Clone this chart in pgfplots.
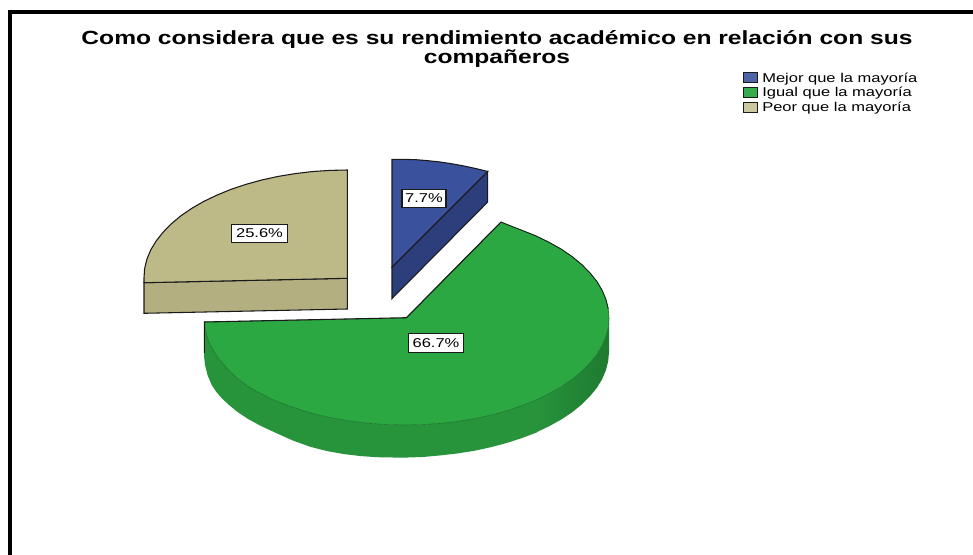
\documentclass[border=0pt]{standalone}
\usepackage{pgfplots}
\pgfplotsset{compat=1.18}
\usepackage{fontspec}
\setmainfont{Liberation Sans}
\newfontfamily\wide[FakeStretch=1.29]{Liberation Sans}
\definecolor{gtop}{HTML}{2CA843}
\definecolor{gmid}{HTML}{27933B}
\definecolor{gdark}{HTML}{1E7A30}
\definecolor{btop}{HTML}{3A529E}
\definecolor{bside}{HTML}{2C3F7C}
\definecolor{ttop}{HTML}{BEBA88}
\definecolor{tside}{HTML}{B4AF80}
\definecolor{line}{HTML}{1A1A1A}
\begin{document}
\begin{tikzpicture}[x=1pt,y=1pt]
\begin{axis}[
  scale only axis, width=729.75pt, height=416.25pt,
  xmin=0, xmax=973, ymin=0, ymax=555, y dir=reverse,
  axis lines=none, ticks=none, clip=true,
]
\path (axis cs:0,0) rectangle (axis cs:973,555);
% frame
\addplot[black, line width=3pt, line join=miter] coordinates {(9.7,560) (9.7,12) (980,12)};
% blue side and top
\addplot[fill=bside, draw=line, line width=0.8pt] coordinates {(487.7,171.5) (487.7,202) (392,298.5) (392,267)} -- cycle;
\addplot[fill=btop, draw=line, line width=0.8pt] coordinates {(392,267) (392,159.3) (404,159.4) (416,159.7) (428,160.7) (440,162) (452,163.8) (464,166) (476,168.6) (487.7,171.5)} -- cycle;
% tan side and top
\addplot[fill=tside, draw=line, line width=0.8pt] coordinates {(144,282.7) (144,313.3) (347.3,309) (347.3,278.3)} -- cycle;
\addplot[fill=ttop, draw=line, line width=0.8pt] coordinates {(347.3,278.3) (347.3,170) (329.6,170.4) (311.9,171.6) (294.6,173.7) (277.7,176.5) (261.3,180.1) (245.5,184.5) (230.6,189.5) (216.5,195.3) (203.4,201.6) (191.4,208.6) (180.6,216) (171.1,224) (162.9,232.4) (156.1,241.1) (150.7,250) (146.9,259.2) (144.6,268.6) (144,278) (144,282.7)} -- cycle;
% green side
\addplot[draw=none, left color=gmid, right color=gdark] coordinates {(609,318) (608.2,327.3) (605.9,336.6) (602.1,345.7) (596.8,354.6) (589.8,363.3) (581.7,371.5) (572.1,379.4) (561.3,386.8) (549.2,393.6) (536.2,400) (536.2,432.4) (549.2,426.2) (561.3,419.5) (572.1,412.3) (581.7,404.5) (589.8,396.4) (596.8,387.9) (602.1,379.2) (605.9,370.2) (608.2,361.1) (609,352)} -- cycle;
\addplot[draw=none, fill=gmid] coordinates {(536.8,400) (522.1,405.6) (507,410.7) (491.3,415) (474.8,418.6) (457.8,421.4) (440.5,423.4) (422.7,424.6) (405,425) (387.3,424.6) (369.5,423.4) (352.2,421.4) (335.2,418.6) (318.7,415) (303,410.7) (287.9,405.6) (273.8,400) (260.8,393.6) (248.7,386.8) (238,379) (228.3,370) (218.3,358.3) (210,345) (206.5,335) (204.3,322) (204.3,352) (204,356) (205,365) (207.5,375) (211.7,385) (216,391.5) (222,398.5) (229,405) (237.5,412) (248,419) (261,426) (276.7,433.3) (293.3,440.7) (310,446.7) (326.7,451) (343.3,454) (360,456) (376.7,457.2) (393,457.5) (405,457.6) (422.7,457) (440.5,455.4) (457.8,453.4) (474.8,450.7) (491.3,447.1) (507,442.9) (522.1,438) (536.8,432.4)} -- cycle;
% green top
\addplot[fill=gtop, draw=gdark, line width=0.5pt] coordinates {(501,222) (507,224.5) (522.1,230.4) (536.2,236) (549.2,242.4) (561.3,249.2) (572.1,256.6) (581.7,264.5) (589.8,272.7) (596.8,281.4) (602.1,290.3) (605.9,299.4) (608.2,308.7) (609,318) (608.2,327.3) (605.9,336.6) (602.1,345.7) (596.8,354.6) (589.8,363.3) (581.7,371.5) (572.1,379.4) (561.3,386.8) (549.2,393.6) (536.2,400) (522.1,405.6) (507,410.7) (491.3,415) (474.8,418.6) (457.8,421.4) (440.5,423.4) (422.7,424.6) (405,425) (387.3,424.6) (369.5,423.4) (352.2,421.4) (335.2,418.6) (318.7,415) (303,410.7) (287.9,405.6) (273.8,400) (260.8,393.6) (248.7,386.8) (238,379) (228.3,370) (218.3,358.3) (210,345) (206.5,335) (204.3,322) (406,318)} -- cycle;
% dark edges of the green slice
\addplot[draw=line, line width=0.8pt] coordinates {(204.3,353) (204.3,322) (406.5,317.7) (501,222)};
\addplot[draw=line, line width=0.6pt] coordinates {(501,222) (507,224.5) (522.1,230.4) (536.2,236) (549.2,242.4) (561.3,249.2) (572.1,256.6) (581.7,264.5) (589.8,272.7) (596.8,281.4) (602.1,290.3) (605.9,299.4) (608.2,308.7)};
% title
\node[font=\wide\bfseries\fontsize{14.3pt}{15pt}\selectfont, anchor=center] at (axis cs:497,39) {Como considera que es su rendimiento académico en relación con sus};
\node[font=\wide\bfseries\fontsize{14.3pt}{15pt}\selectfont, anchor=center] at (axis cs:497,58.5) {compañeros};
% value labels
\node[draw=line, fill=white, line width=0.8pt, inner sep=0pt, minimum width=33pt, minimum height=14pt, font=\wide\fontsize{9.6pt}{11pt}\selectfont] at (axis cs:424,198.5) {7.7\%};
\node[draw=line, fill=white, line width=0.8pt, inner sep=0pt, minimum width=41.5pt, minimum height=14pt, font=\wide\fontsize{9.6pt}{11pt}\selectfont] at (axis cs:259.5,233.5) {25.6\%};
\node[draw=line, fill=white, line width=0.8pt, inner sep=0pt, minimum width=41.5pt, minimum height=14pt, font=\wide\fontsize{9.6pt}{11pt}\selectfont] at (axis cs:436,343) {66.7\%};
% legend
\addplot[fill=btop!90!white, draw=line, line width=0.7pt] coordinates {(743,72) (757,72) (757,82) (743,82)} -- cycle;
\addplot[fill=gtop!95!white, draw=line, line width=0.7pt] coordinates {(743,87) (757,87) (757,97) (743,97)} -- cycle;
\addplot[fill=ttop!80!white, draw=line, line width=0.7pt] coordinates {(743,102) (757,102) (757,112) (743,112)} -- cycle;
\node[anchor=west, inner sep=0pt, font=\wide\fontsize{9.6pt}{11pt}\selectfont] at (axis cs:762,78.7) {Mejor que la mayoría};
\node[anchor=west, inner sep=0pt, font=\wide\fontsize{9.6pt}{11pt}\selectfont] at (axis cs:762,93) {Igual que la mayoría};
\node[anchor=west, inner sep=0pt, font=\wide\fontsize{9.6pt}{11pt}\selectfont] at (axis cs:762,108) {Peor que la mayoría};
\end{axis}
\end{tikzpicture}
\end{document}
